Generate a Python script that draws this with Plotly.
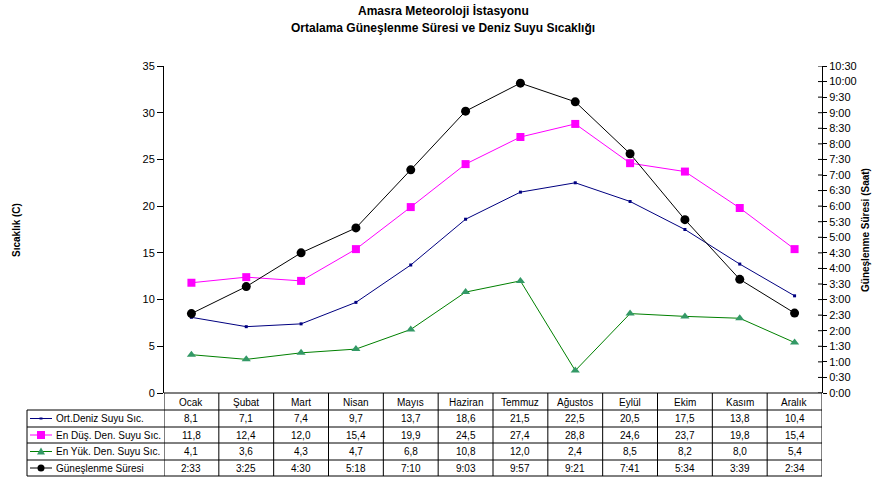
import plotly.graph_objects as go

# Monthly data, Amasra station
months = ["Ocak", "Şubat", "Mart", "Nisan", "Mayıs", "Haziran",
          "Temmuz", "Ağustos", "Eylül", "Ekim", "Kasım", "Aralık"]
ort_deniz = [8.1, 7.1, 7.4, 9.7, 13.7, 18.6, 21.5, 22.5, 20.5, 17.5, 13.8, 10.4]
en_dus = [11.8, 12.4, 12.0, 15.4, 19.9, 24.5, 27.4, 28.8, 24.6, 23.7, 19.8, 15.4]
en_yuk = [4.1, 3.6, 4.3, 4.7, 6.8, 10.8, 12.0, 2.4, 8.5, 8.2, 8.0, 5.4]
gunes = ["2:33", "3:25", "4:30", "5:18", "7:10", "9:03",
         "9:57", "9:21", "7:41", "5:34", "3:39", "2:34"]

series_names = ["Ort.Deniz Suyu Sıc.", "En Düş. Den. Suyu Sıc.",
                "En Yük. Den. Suyu Sıc.", "Güneşlenme Süresi"]


def to_hours(s):
    h, m = s.split(":")
    return int(h) + int(m) / 60.0


gunes_h = [to_hours(s) for s in gunes]
xs = list(range(len(months)))

W, H = 874, 479
L, R, T, B = 164, 822, 66, 393  # plot area in pixels


def px(x):
    return (x - L) / (R - L)


def py(y):
    return (B - y) / (B - T)


FONT = "Liberation Sans, Arial, sans-serif"
NAVY, MAG, GRN, GRN_M, BLK = "#000080", "#FF00FF", "#008000", "#339966", "#000000"

fig = go.Figure()
fig.add_trace(go.Scatter(x=xs, y=ort_deniz, mode="lines+markers", name=series_names[0],
                         line=dict(color=NAVY, width=1),
                         marker=dict(symbol="square", size=3, color=NAVY)))
fig.add_trace(go.Scatter(x=xs, y=en_dus, mode="lines+markers", name=series_names[1],
                         line=dict(color=MAG, width=1),
                         marker=dict(symbol="square", size=8, color=MAG)))
fig.add_trace(go.Scatter(x=xs, y=en_yuk, mode="lines+markers", name=series_names[2],
                         line=dict(color=GRN, width=1),
                         marker=dict(symbol="triangle-up", size=8, color=GRN_M)))
fig.add_trace(go.Scatter(x=xs, y=gunes_h, mode="lines+markers", name=series_names[3],
                         yaxis="y2", line=dict(color=BLK, width=1),
                         marker=dict(symbol="circle", size=9, color=BLK)))

right_vals = [i * 0.5 for i in range(22)]
right_text = [f"{int(v)}:{int(round((v % 1) * 60)):02d}" for v in right_vals]

fig.update_layout(
    width=W, height=H,
    margin=dict(l=L, r=W - R, t=T, b=H - B, pad=0),
    paper_bgcolor="white", plot_bgcolor="white",
    showlegend=False,
    font=dict(family=FONT, size=11, color="black"),
    xaxis=dict(range=[-0.5, 11.5], showticklabels=False, showgrid=False,
               zeroline=False, showline=False, ticks="", fixedrange=True),
    yaxis=dict(range=[0, 35], tickvals=list(range(0, 36, 5)), showgrid=False,
               zeroline=False, showline=True, linecolor="black", linewidth=1,
               ticks="outside", ticklen=6, tickcolor="black",
               tickfont=dict(size=11, family=FONT)),
    yaxis2=dict(range=[0, 10.5], overlaying="y", side="right",
                tickvals=right_vals, ticktext=right_text, showgrid=False,
                zeroline=False, showline=True, linecolor="black", linewidth=1,
                ticks="outside", ticklen=4, tickcolor="black",
                tickfont=dict(size=11, family=FONT)),
)

shapes = []
annotations = []


def label(text, x, y, xref="paper", size=10, xanchor="center", angle=0):
    annotations.append(dict(text=text, xref=xref, yref="paper", x=x, y=y,
                            xanchor=xanchor, yanchor="middle", textangle=angle,
                            showarrow=False, font=dict(size=size)))


# Title
label("<b>Amasra Meteoroloji İstasyonu</b>", px(443), py(11), size=12)
label("<b>Ortalama Güneşlenme Süresi ve Deniz Suyu Sıcaklığı</b>", px(443), py(28), size=12)

# Axis titles
label("<b>Sıcaklık (C)</b>", px(17), py(230), angle=-90)
label("<b>Güneşlenme Süresi (Saat)</b>", px(866), py(230), angle=-90)

# Right-axis ticks cross the axis line: add the inner half
for v in right_vals:
    shapes.append(dict(type="line", xref="paper", yref="y2",
                       x0=px(R - 4), x1=1, y0=v, y1=v,
                       line=dict(color="black", width=1)))

# Data table grid
line = dict(color="black", width=1)
tbl_left, tbl_top, tbl_bottom = 27, 393, 476
row_lines = [410, 427, 443, 460, 476]
shapes.append(dict(type="line", xref="paper", yref="paper",
                   x0=0, x1=1, y0=py(tbl_top), y1=py(tbl_top), line=line))
for yl in row_lines:
    shapes.append(dict(type="line", xref="paper", yref="paper",
                       x0=px(tbl_left), x1=1, y0=py(yl), y1=py(yl), line=line))
shapes.append(dict(type="line", xref="paper", yref="paper",
                   x0=px(tbl_left), x1=px(tbl_left), y0=py(410), y1=py(tbl_bottom), line=line))
for k in range(len(months) + 1):
    shapes.append(dict(type="line", xref="x", yref="paper",
                       x0=k - 0.5, x1=k - 0.5, y0=py(tbl_top), y1=py(tbl_bottom), line=line))

# Header row: month names
header_y = 402
for i, m in enumerate(months):
    label(m, i, py(header_y), xref="x")

# Value rows
row_y = [418.5, 435, 451.5, 468]
fmt = lambda v: f"{v:.1f}".replace(".", ",")
rows = [[fmt(v) for v in ort_deniz], [fmt(v) for v in en_dus],
        [fmt(v) for v in en_yuk], gunes]
for r, (vals, yc) in enumerate(zip(rows, row_y)):
    for i, v in enumerate(vals):
        label(v, i, py(yc), xref="x")
    label(series_names[r], px(54), py(yc), xanchor="left")

# Legend keys inside the table
key_colors = [NAVY, MAG, GRN, BLK]
kx0, kx1, kxc = 30, 52, 41
for r, yc in enumerate(row_y):
    shapes.append(dict(type="line", xref="paper", yref="paper",
                       x0=px(kx0), x1=px(kx1), y0=py(yc), y1=py(yc),
                       line=dict(color=key_colors[r], width=1)))
# marker glyphs
shapes.append(dict(type="rect", xref="paper", yref="paper",
                   x0=px(kxc - 1.5), x1=px(kxc + 1.5), y0=py(row_y[0] - 1), y1=py(row_y[0] + 1),
                   fillcolor=NAVY, line=dict(width=0)))
shapes.append(dict(type="rect", xref="paper", yref="paper",
                   x0=px(kxc - 4), x1=px(kxc + 4), y0=py(row_y[1] - 4), y1=py(row_y[1] + 4),
                   fillcolor=MAG, line=dict(width=0)))
ty = row_y[2]
shapes.append(dict(type="path", xref="paper", yref="paper",
                   path=f"M {px(kxc - 4)},{py(ty + 3)} L {px(kxc + 4)},{py(ty + 3)} "
                        f"L {px(kxc)},{py(ty - 4)} Z",
                   fillcolor=GRN_M, line=dict(width=0)))
shapes.append(dict(type="circle", xref="paper", yref="paper",
                   x0=px(kxc - 3.5), x1=px(kxc + 3.5), y0=py(row_y[3] - 3.5), y1=py(row_y[3] + 3.5),
                   fillcolor=BLK, line=dict(width=0)))

fig.update_layout(shapes=shapes, annotations=annotations)
fig.write_html("out.html")
